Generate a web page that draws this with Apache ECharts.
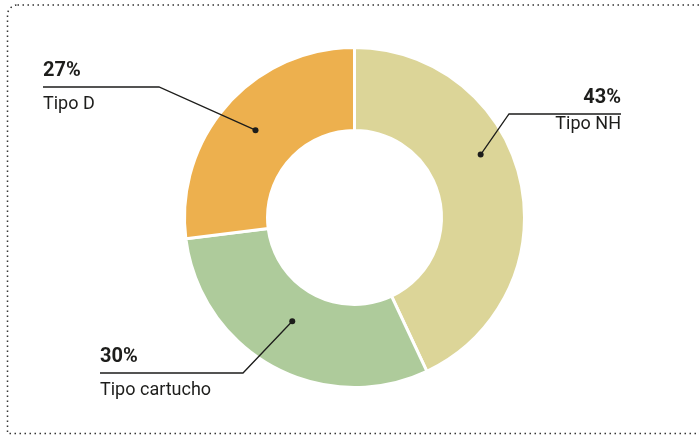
<!DOCTYPE html>
<html>
<head>
<meta charset="utf-8">
<script src="https://cdn.jsdelivr.net/npm/echarts@6/dist/echarts.min.js"></script>
<style>
  html, body { margin: 0; padding: 0; background: #fff; }
  #main { width: 699px; height: 435px; }
</style>
</head>
<body>
<div id="main"></div>
<script>
// data
const categories = ["Tipo NH", "Tipo cartucho", "Tipo D"]
const values     = [43, 30, 27]
const colors     = ["#DCD598", "#AECB9B", "#EDB04E"]

// callout layout (where the pointer dot sits inside each slice, and the label line)
const dotFrac   = [0.41, 0.52, 0.5]
const dotRadius = [141, 121, 132]
const lineY     = [114, 373, 87]
const lineEnd   = [621, 100, 43]
const elbowX    = [509, 243, 159]
const nameStyle = ["nt", "n", "n"]

const center = [354.5, 217.5]
const total = values.reduce((a, b) => a + b, 0)

// angle (value units) of each dot
let acc = 0
const dotAngles = values.map((v, i) => {
  const a = acc + v * dotFrac[i]
  acc += v
  return a
})

const dotPoint = i => {
  const t = dotAngles[i] / total * Math.PI * 2
  return [center[0] + dotRadius[i] * Math.sin(t), center[1] - dotRadius[i] * Math.cos(t)]
}

const ink = "#1d1d1b"
const font = "Roboto, 'Liberation Sans', sans-serif"

const pieBase = {
  type: "pie",
  center: center,
  radius: [87, 170],
  startAngle: 90,
  clockwise: true,
  avoidLabelOverlap: false,
  emphasis: { disabled: true },
  silent: true
}

const options = {
  animation: false,
  graphic: [{
    type: "rect",
    shape: { x: 7.5, y: 5, width: 720, height: 428.5, r: [10, 0, 0, 0] },
    style: { fill: null, stroke: "#333", lineWidth: 1.5, lineDash: [1.5, 3.5] },
    silent: true
  }],
  polar: { center: center, radius: 170 },
  angleAxis: { type: "value", min: 0, max: total, startAngle: 90, clockwise: true, show: false },
  radiusAxis: { type: "value", min: 0, max: 170, show: false },
  series: [
    {
      // the ring
      ...pieBase,
      z: 2,
      itemStyle: { borderColor: "#fff", borderWidth: 3 },
      data: categories.map((name, i) => ({
        name: name,
        value: values[i],
        itemStyle: { color: colors[i] }
      })),
      label: { show: false },
      labelLine: { show: false }
    },
    {
      // same slices, invisible, carrying the callouts above the ring
      ...pieBase,
      z: 4,
      itemStyle: { color: "rgba(0,0,0,0)", borderWidth: 0 },
      data: categories.map((name, i) => ({ name: name, value: values[i] })),
      label: {
        show: true,
        position: "outside",
        color: ink,
        fontFamily: font,
        formatter: p => `{p|${p.value}%}\n{${nameStyle[p.dataIndex]}|${p.name}}`,
        rich: {
          p:  { fontSize: 20, fontWeight: "bold", lineHeight: 30, fontFamily: font, color: ink },
          n:  { fontSize: 18, lineHeight: 38, fontFamily: font, color: ink },
          nt: { fontSize: 18, lineHeight: 24, fontFamily: font, color: ink }
        }
      },
      labelLine: { show: true, smooth: false, lineStyle: { color: ink, width: 1.3 } },
      labelLayout: params => {
        const i = params.dataIndex
        const right = lineEnd[i] > center[0]
        return {
          x: lineEnd[i],
          y: lineY[i] - 31.4,
          align: right ? "right" : "left",
          verticalAlign: "top",
          labelLinePoints: [dotPoint(i), [elbowX[i], lineY[i]], [lineEnd[i], lineY[i]]]
        }
      }
    },
    {
      // pointer dots
      type: "scatter",
      coordinateSystem: "polar",
      symbolSize: 6,
      z: 6,
      silent: true,
      itemStyle: { color: ink, opacity: 1 },
      data: values.map((v, i) => [dotRadius[i], dotAngles[i]])
    }
  ]
}

// chart
const myChart = echarts.init(document.getElementById("main"))
myChart.setOption(options)
window.onresize = () => myChart.resize()
</script>
</body>
</html>
